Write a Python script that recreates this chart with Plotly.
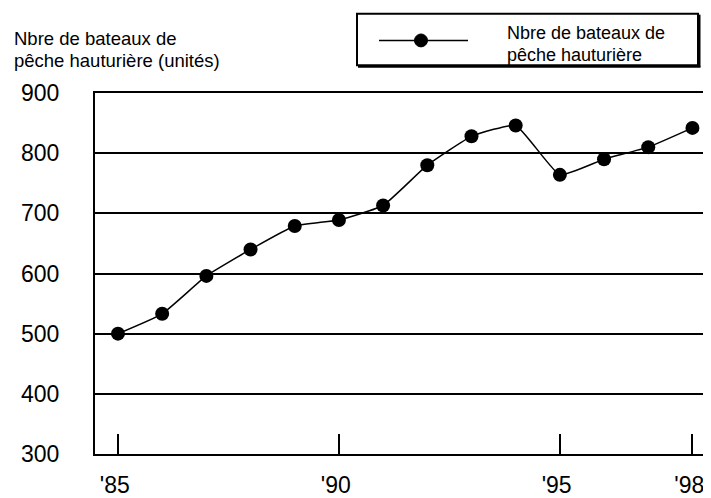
import plotly.graph_objects as go

years = [1985, 1986, 1987, 1988, 1989, 1990, 1991, 1992, 1993, 1994, 1995, 1996, 1997, 1998]
boats = [500, 533, 596, 640, 679, 689, 713, 780, 828, 846, 764, 790, 810, 842]
tick_years = [1985, 1990, 1995, 1998]
tick_labels = ["'85", "'90", "'95", "'98"]
y_label_lines = ["Nbre de bateaux de", "pêche hauturière (unités)"]
legend_lines = ["Nbre de bateaux de", "pêche hauturière"]

OFF = 8  # page body margin
W, H = 711 - OFF, 498 - OFF
L, R, T, B = 95 - OFF, 0, 93 - OFF, 41
PW, PH = W - L - R, H - T - B


def px(x):
    return (x - OFF - L) / PW


def py(y):
    return (H - B - (y - OFF)) / PH


FONT = "Liberation Sans"

fig = go.Figure()
fig.add_trace(go.Scatter(
    x=years, y=boats, mode="lines+markers",
    line=dict(color="black", width=1.5, shape="spline", smoothing=0.4),
    marker=dict(color="black", size=14, symbol="circle"),
    showlegend=False,
))

shapes = []
shapes.append(dict(type="rect", xref="paper", yref="paper",
                   x0=px(357), x1=px(698), y0=py(65), y1=py(13),
                   line=dict(color="black", width=2), fillcolor="white", layer="above"))
shapes.append(dict(type="line", xref="paper", yref="paper",
                   x0=px(699.5), x1=px(699.5), y0=py(66.5), y1=py(14),
                   line=dict(color="black", width=2)))
shapes.append(dict(type="line", xref="paper", yref="paper",
                   x0=px(358), x1=px(700.5), y0=py(66.5), y1=py(66.5),
                   line=dict(color="black", width=2)))
shapes.append(dict(type="line", xref="paper", yref="paper",
                   x0=px(379), x1=px(468), y0=py(40), y1=py(40),
                   line=dict(color="black", width=1.5), layer="above"))
shapes.append(dict(type="circle", xref="paper", yref="paper",
                   x0=px(414.5), x1=px(427.5), y0=py(46.5), y1=py(33.5),
                   line=dict(color="black", width=1), fillcolor="black", layer="above"))

annotations = []
for i, t in enumerate(y_label_lines):
    annotations.append(dict(text=t, xref="paper", yref="paper", x=px(12), y=py(38 + 22 * i),
                            xanchor="left", yanchor="middle", showarrow=False,
                            font=dict(family=FONT, size=18.5, color="black")))
for i, t in enumerate(legend_lines):
    annotations.append(dict(text=t, xref="paper", yref="paper", x=px(505), y=py(32 + 23 * i),
                            xanchor="left", yanchor="middle", showarrow=False,
                            font=dict(family=FONT, size=18, color="black")))

fig.update_layout(
    width=W, height=H,
    margin=dict(l=L, r=R, t=T, b=B, pad=0),
    paper_bgcolor="white", plot_bgcolor="white",
    shapes=shapes, annotations=annotations,
    font=dict(family=FONT, color="black", size=23),
    xaxis=dict(range=[1984.48, 1998.42], tickvals=tick_years,
               ticktext=[t + "\u00a0" for t in tick_labels],
               ticks="inside", ticklen=20, tickwidth=2, tickcolor="black",
               showgrid=False, zeroline=False, showline=True, linecolor="black", linewidth=2,
               mirror=True, ticklabelstandoff=9, tickfont=dict(size=23)),
    yaxis=dict(range=[300, 900], dtick=100, ticks="", showgrid=True, gridcolor="black",
               gridwidth=2, zeroline=False, showline=True, linecolor="black", linewidth=2,
               ticklabelstandoff=29, tickfont=dict(size=23)),
)

fig.write_html("out.html")
